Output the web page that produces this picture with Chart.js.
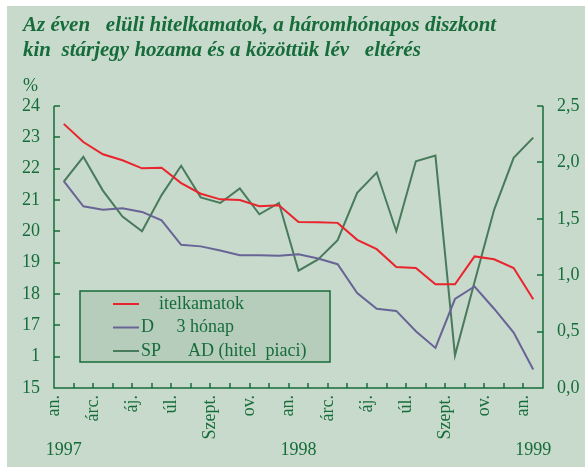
<!DOCTYPE html>
<html>
<head>
<meta charset="utf-8">
<script src="https://cdn.jsdelivr.net/npm/chart.js@4/dist/chart.umd.min.js"></script>
<style>
  html, body { margin: 0; padding: 0; background: #fff; }
  canvas { display: block; }
</style>
</head>
<body>
<canvas id="chart" width="585" height="467"></canvas>
<script>
// havi adatok, 1997 jan. - 1999 jan.
const hitelkamat = [23.43, 22.85, 22.46, 22.27, 22.01, 22.03, 21.54, 21.20, 21.02, 21.00, 20.80, 20.83, 20.30,
  20.29, 20.27, 19.73, 19.43, 18.86, 18.83, 18.31, 18.31, 19.20, 19.11, 18.83, 17.83];
const dkj3 = [21.60, 20.80, 20.69, 20.74, 20.62, 20.35, 19.57, 19.52, 19.39, 19.24, 19.24, 19.22, 19.27,
  19.13, 18.95, 18.03, 17.53, 17.46, 16.81, 16.28, 17.84, 18.24, 17.53, 16.77, 15.59];
const spread = [1.83, 2.05, 1.75, 1.52, 1.39, 1.71, 1.97, 1.69, 1.64, 1.77, 1.54, 1.64, 1.04,
  1.14, 1.31, 1.73, 1.91, 1.39, 2.01, 2.06, 0.29, 0.94, 1.58, 2.04, 2.22];

const monthLabels = ['an.', 'árc.', 'áj.', 'úl.', 'Szept.', 'ov.', 'an.', 'árc.', 'áj.', 'úl.', 'Szept.', 'ov.', 'an.'];
const monthTicks = [0, 2, 4, 6, 8, 10, 12, 14, 16, 18, 20, 22, 24];
const years = ['1997', '1998', '1999'];
const yearMonth = [0, 12, 24];
const leftTicks = [15, 16, 17, 18, 19, 20, 21, 22, 23, 24];
const leftLabels = ['15', '1', '17', '18', '19', '20', '21', '22', '23', '24'];

const titleLines = [
  'Az éven   elüli hitelkamatok, a háromhónapos diszkont',
  'kin  stárjegy hozama és a közöttük lév   eltérés'
];

const green = 'rgb(22,108,58)';
const serif = 'Liberation Serif';

Chart.defaults.font.family = serif;
Chart.defaults.font.size = 18;
Chart.defaults.color = green;

const toPoints = arr => arr.map((v, i) => ({ x: i + 0.5, y: v }));

const decor = {
  id: 'decor',
  beforeDraw(chart) {
    const c = chart.ctx;
    c.save();
    c.fillStyle = '#fff';
    c.fillRect(0, 0, chart.width, chart.height);
    c.fillStyle = 'rgb(200,218,203)';
    c.fillRect(7, 6, chart.width - 7, chart.height - 6);

    c.fillStyle = green;
    c.font = 'italic bold 21px "' + serif + '"';
    c.textBaseline = 'alphabetic';
    c.textAlign = 'left';
    c.fillText(titleLines[0], 23, 31);
    c.fillText(titleLines[1], 23, 56);

    c.font = '18px "' + serif + '"';
    c.textBaseline = 'middle';
    c.fillText('%', 23, 86);
    c.restore();
  },
  afterDatasetsDraw(chart) {
    const c = chart.ctx;
    const { x, y, y1 } = chart.scales;
    const a = chart.chartArea;
    c.save();
    // tengelyek
    c.strokeStyle = green;
    c.lineWidth = 1.5;
    c.beginPath();
    c.moveTo(a.left, a.top);
    c.lineTo(a.left, a.bottom);
    c.lineTo(a.right, a.bottom);
    c.lineTo(a.right, a.top);
    for (const v of leftTicks) {
      const py = Math.round(y.getPixelForValue(v));
      c.moveTo(a.left, py);
      c.lineTo(a.left + 6, py);
    }
    for (let v = 0; v <= 2.5001; v += 0.5) {
      const py = Math.round(y1.getPixelForValue(v));
      c.moveTo(a.right, py);
      c.lineTo(a.right - 6, py);
    }
    for (let m = 0; m <= 24; m++) {
      const px = Math.round(x.getPixelForValue(m));
      c.moveTo(px, a.bottom);
      c.lineTo(px, a.bottom - 5);
    }
    c.stroke();

    // évek
    c.fillStyle = green;
    c.font = '18px "' + serif + '"';
    c.textAlign = 'center';
    c.textBaseline = 'middle';
    years.forEach((t, i) => c.fillText(t, x.getPixelForValue(yearMonth[i] + 0.5), 450));

    // jelmagyarázat
    c.fillStyle = 'rgb(182,205,187)';
    c.fillRect(80, 291, 250, 71);
    c.strokeRect(80, 291, 250, 71);
    c.textAlign = 'left';
    chart.data.datasets.forEach((ds, i) => {
      const ly = 304 + i * 23.5;
      c.strokeStyle = ds.borderColor;
      c.lineWidth = 2;
      c.beginPath();
      c.moveTo(113, ly);
      c.lineTo(139, ly);
      c.stroke();
      c.fillStyle = green;
      c.fillText(ds.label, 141, ly);
    });
    c.restore();
  }
};

const tickFont = { family: serif, size: 18 };

new Chart(document.getElementById('chart'), {
  type: 'line',
  data: {
    datasets: [
      { label: '    itelkamatok', data: toPoints(hitelkamat), borderColor: 'rgb(234,36,44)', yAxisID: 'y' },
      { label: 'D     3 hónap', data: toPoints(dkj3), borderColor: 'rgb(104,100,150)', yAxisID: 'y' },
      { label: 'SP      AD (hitel  piaci)', data: toPoints(spread), borderColor: 'rgb(72,122,92)', yAxisID: 'y1' }
    ]
  },
  options: {
    responsive: false,
    animation: false,
    devicePixelRatio: 1,
    layout: { padding: { top: 106, left: 0, right: 0, bottom: 0 } },
    elements: {
      line: { borderWidth: 2, tension: 0 },
      point: { radius: 0 }
    },
    plugins: { legend: { display: false }, tooltip: { enabled: false } },
    scales: {
      x: {
        type: 'linear',
        min: 0,
        max: 25,
        grid: { display: false, drawTicks: false },
        border: { display: false },
        afterBuildTicks: s => { s.ticks = monthTicks.map(v => ({ value: v })); },
        afterFit: s => { s.height = 79; },
        ticks: {
          autoSkip: false,
          minRotation: 90,
          maxRotation: 90,
          padding: 7,
          color: green,
          font: tickFont,
          callback: (v, i) => monthLabels[i]
        }
      },
      y: {
        position: 'left',
        min: 15,
        max: 24,
        grid: { display: false, drawTicks: false },
        border: { display: false },
        afterBuildTicks: s => { s.ticks = leftTicks.map(v => ({ value: v })); },
        afterFit: s => { s.width = 54; },
        ticks: {
          padding: 14,
          color: green,
          font: tickFont,
          callback: (v, i) => leftLabels[i]
        }
      },
      y1: {
        position: 'right',
        min: 0,
        max: 2.5,
        grid: { display: false, drawTicks: false },
        border: { display: false },
        afterFit: s => { s.width = 42; },
        ticks: {
          stepSize: 0.5,
          padding: 14,
          color: green,
          font: tickFont,
          callback: v => v.toFixed(1).replace('.', ',')
        }
      }
    }
  },
  plugins: [decor]
});
</script>
</body>
</html>
